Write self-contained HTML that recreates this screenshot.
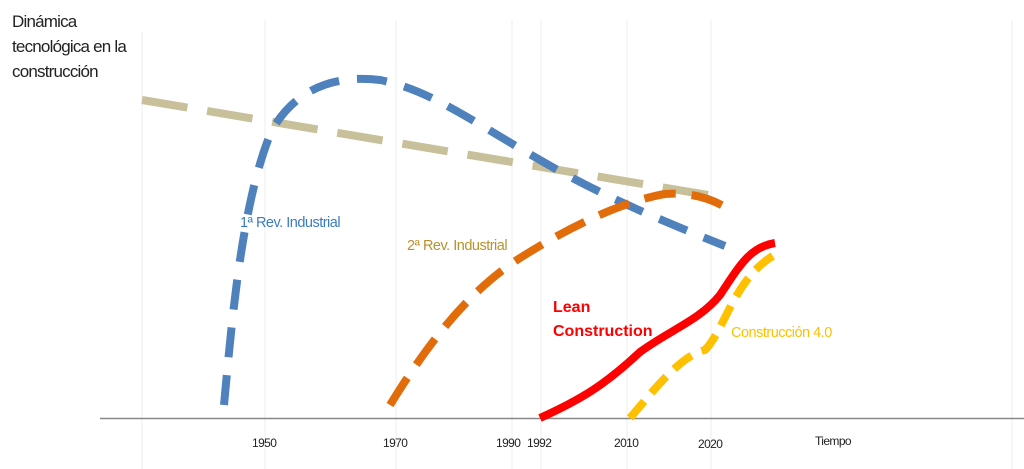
<!DOCTYPE html>
<html><head><meta charset="utf-8"><style>
html,body{margin:0;padding:0;background:#fff;}
svg{display:block;font-family:"Liberation Sans",Arial,sans-serif;}
</style></head><body>
<svg width="1024" height="469" viewBox="0 0 1024 469" xmlns="http://www.w3.org/2000/svg">
<g stroke="#ececec" stroke-width="1">
<line x1="142" y1="32" x2="142" y2="469"/>
<line x1="265" y1="20" x2="265" y2="469"/>
<line x1="396" y1="20" x2="396" y2="469"/>
<line x1="512" y1="20" x2="512" y2="469"/>
<line x1="541" y1="20" x2="541" y2="469"/>
<line x1="627" y1="20" x2="627" y2="469"/>
<line x1="711" y1="20" x2="711" y2="469"/>
<line x1="1012" y1="20" x2="1012" y2="469"/>
</g>
<line x1="100" y1="418.5" x2="1024" y2="418.5" stroke="#888" stroke-width="1.5"/>
<text x="12" y="27" font-size="17" fill="#222" letter-spacing="-0.8">Dinámica</text>
<text x="12" y="52" font-size="17" fill="#222" letter-spacing="-0.8">tecnológica en la</text>
<text x="12" y="77" font-size="17" fill="#222" letter-spacing="-0.8">construcción</text>
<g font-size="12" fill="#222" letter-spacing="-0.6">
<text x="252" y="447">1950</text>
<text x="383" y="447">1970</text>
<text x="496" y="447">1990</text>
<text x="527" y="447">1992</text>
<text x="614" y="447">2010</text>
<text x="698" y="448">2020</text>
<text x="815" y="445">Tiempo</text>
</g>
<path d="M142,100 L708,195" stroke="#c8c09a" stroke-width="8" fill="none" stroke-dasharray="46,20"/>
<path d="M224,405 C232,320 242,200 272,130 C298,85 340,75 380,80 C430,90 470,120 540,160 C600,195 660,220 725,246" stroke="#4f81bd" stroke-width="8" fill="none" stroke-dasharray="30,18"/>
<path d="M390,405 C430,340 470,290 520,258 C580,220 630,200 665,194 C690,192 710,198 727,208" stroke="#e36c0a" stroke-width="8" fill="none" stroke-dasharray="32,16"/>
<path d="M540,418 C580,400 605,385 640,352 C670,330 700,320 720,295 C740,265 750,247 775,243" stroke="#ff0000" stroke-width="8" fill="none"/>
<path d="M630,418 C650,395 680,355 705,350 C725,330 735,275 778,253" stroke="#ffc000" stroke-width="8" fill="none" stroke-dasharray="22,11"/>
<text x="240" y="227" font-size="14.5" fill="#3a7cc2" letter-spacing="-0.5">1ª Rev. Industrial</text>
<text x="407" y="250" font-size="14.5" fill="#b8922e" letter-spacing="-0.5">2ª Rev. Industrial</text>
<text x="553" y="312" font-size="16" font-weight="bold" fill="#ff0000">Lean</text>
<text x="553" y="336" font-size="16" font-weight="bold" fill="#ff0000">Construction</text>
<text x="731" y="337" font-size="14.5" fill="#ffc000" letter-spacing="-0.5">Construcción 4.0</text>
</svg>
</body></html>
